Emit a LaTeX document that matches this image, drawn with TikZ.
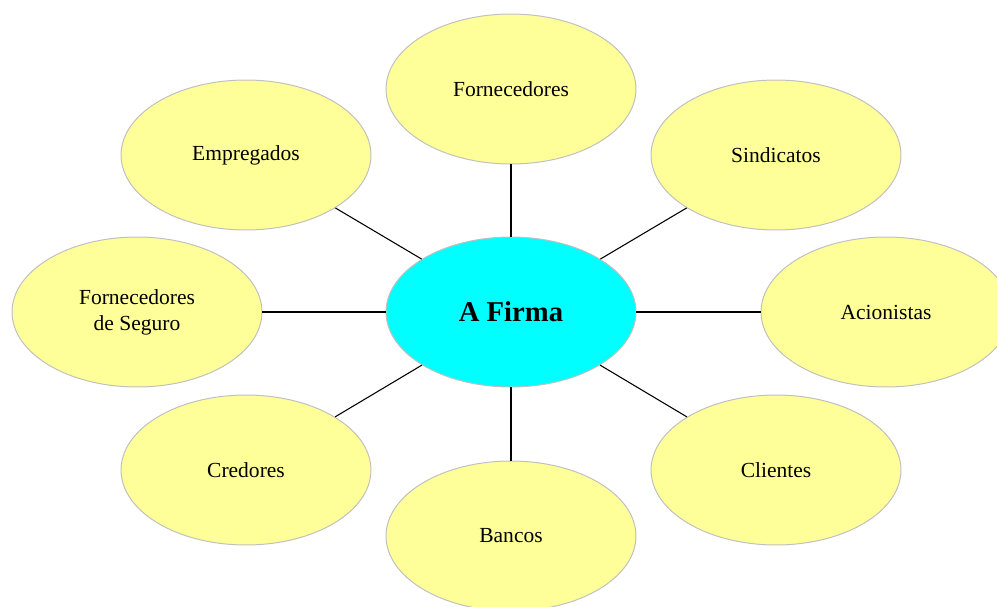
\documentclass[tikz,border=0pt]{standalone}
\usepackage{fontspec}
\setmainfont{Liberation Serif}
\usepackage{tikz}
\usetikzlibrary{shapes}
\usetikzlibrary{positioning}
\definecolor{bolha}{HTML}{FFFF99}
\definecolor{bolhafirma}{HTML}{00FFFF}
\definecolor{bordabolha}{HTML}{C0C0C0}
\tikzset{
  parte/.style={ellipse,draw=bordabolha,fill=bolha,line width=.55pt,
    minimum width=4.9cm,minimum height=2.94cm,inner sep=0pt,align=center,
    font=\fontsize{12}{14.5}\selectfont},
  firma/.style={parte,fill=bolhafirma,font=\fontsize{16}{19}\selectfont\bfseries},
  liga/.style={line width=.6pt,black}
}

\begin{document}
\begin{tikzpicture}[x=0.0196cm,y=-0.0196cm]
\clip (0,0) rectangle (997,606);
\useasboundingbox (0,0) rectangle (997,606);
\node[firma] (af) at (511,312) {A Firma};
\node[parte] (forn) at (511,89) {Fornecedores};
\node[parte] (sind) at (776,155) {Sindicatos};
\node[parte] (acion) at (886,312) {Acionistas};
\node[parte] (cli) at (776,470) {Clientes};
\node[parte] (banc) at (511,536) {Bancos};
\node[parte] (cred) at (246,470) {Credores};
\node[parte] (seg) at (137,312) {Fornecedores\\de Seguro};
\node[parte] (empr) at (246,155) {Empregados};
\foreach \p in {forn,sind,acion,cli,banc,cred,seg,empr}
  \draw[liga] (af) -- (\p);
\end{tikzpicture}
\end{document}
